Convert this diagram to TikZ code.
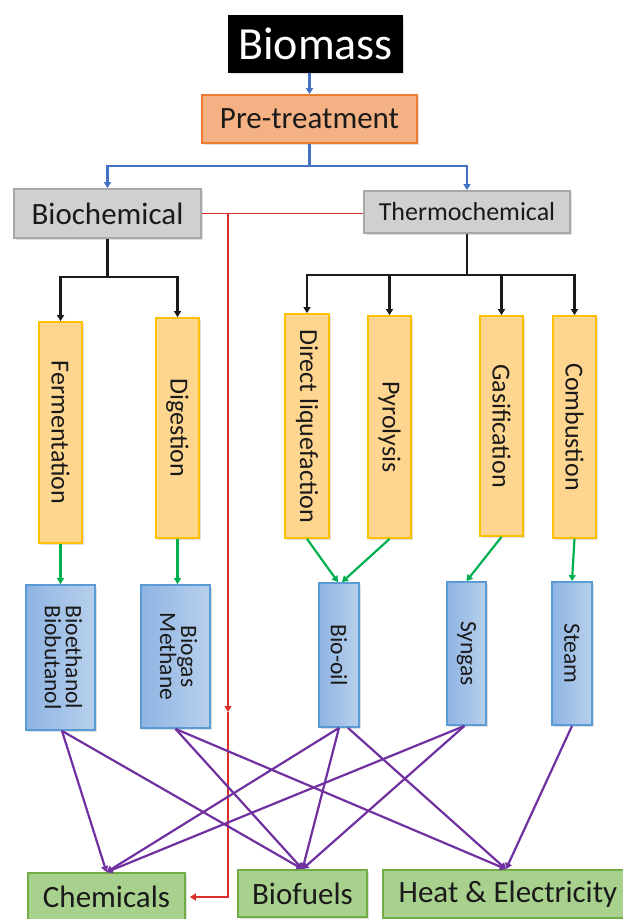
\documentclass[tikz,border=0pt]{standalone}
\usepackage{fontspec}
\setmainfont{Carlito}
\usetikzlibrary{arrows.meta,shadows,calc}
\definecolor{bluel}{HTML}{4472C4}
\definecolor{redl}{HTML}{D9302C}
\definecolor{greenl}{HTML}{00B050}
\definecolor{purl}{HTML}{7030A0}
\definecolor{blkl}{HTML}{1A1A1A}
\definecolor{orfill}{HTML}{F4B183}
\definecolor{ordraw}{HTML}{ED7D31}
\definecolor{grfill}{HTML}{D0D0D0}
\definecolor{grdraw}{HTML}{A8A8A8}
\definecolor{yefill}{HTML}{FFD68F}
\definecolor{yedraw}{HTML}{FFC000}
\definecolor{blfillL}{HTML}{8FB4E3}
\definecolor{blfillR}{HTML}{B8D0EC}
\definecolor{bldraw}{HTML}{5B9BD5}
\definecolor{gnfill}{HTML}{A9D18E}
\definecolor{gndraw}{HTML}{70AD47}
\begin{document}
\begin{tikzpicture}[x=1pt,y=-1pt,
  box/.style={inner sep=0pt, line width=1.8pt, text=blkl, align=center,
    drop shadow={shadow xshift=1.5pt, shadow yshift=-1.5pt, opacity=0.25}},
  topbox/.style={box, fill=black, draw=black, text=white, drop shadow={opacity=0}},
  prebox/.style={box, fill=orfill, draw=ordraw},
  graybox/.style={box, fill=grfill, draw=grdraw},
  procbox/.style={box, fill=yefill, draw=yedraw, font=\fontsize{26}{28}\selectfont},
  prodbox/.style={box, left color=blfillL, right color=blfillR, draw=bldraw, font=\fontsize{23.5}{25}\selectfont},
  endbox/.style={box, fill=gnfill, draw=gndraw, font=\fontsize{31}{33}\selectfont},
  tip/.style={-{Triangle[width=7pt,length=6pt]}},
  bluearr/.style={bluel, line width=2.2pt},
  redarr/.style={redl, line width=1.8pt},
  blkarr/.style={blkl, line width=2.2pt},
  grnarr/.style={greenl, line width=2.2pt},
  purarr/.style={purl, line width=2.2pt}]
\useasboundingbox (0,0) rectangle (623,919);

% top level
\node[topbox, minimum width=173pt, minimum height=56pt, font=\fontsize{46}{48}\selectfont] (bio) at (315.5,44) {Biomass};
\node[prebox, minimum width=215pt, minimum height=48pt, font=\fontsize{31}{33}\selectfont] (pre) at (309.5,119) {Pre-treatment};
\node[graybox, minimum width=187pt, minimum height=49pt, font=\fontsize{31}{33}\selectfont] (bc) at (107.5,213.5) {Biochemical};
\node[graybox, minimum width=206pt, minimum height=42pt, font=\fontsize{26}{28}\selectfont] (tc) at (467,212) {Thermochemical};

% processes
\node[procbox, minimum width=43pt, minimum height=221pt] (ferm) at (60.5,432.5) {\rotatebox{-90}{Fermentation}};
\node[procbox, minimum width=43pt, minimum height=220pt] (dig) at (177.5,428) {\rotatebox{-90}{Digestion}};
\node[procbox, minimum width=44pt, minimum height=224pt] (dl) at (307,426) {\rotatebox{-90}{Direct liquefaction}};
\node[procbox, minimum width=43pt, minimum height=222pt] (pyr) at (389.5,427) {\rotatebox{-90}{Pyrolysis}};
\node[procbox, minimum width=43pt, minimum height=220pt] (gas) at (501.5,426) {\rotatebox{-90}{Gasification}};
\node[procbox, minimum width=43pt, minimum height=222pt] (comb) at (574.5,427) {\rotatebox{-90}{Combustion}};

% products
\node[prodbox, minimum width=69pt, minimum height=145pt] (beth) at (60.5,657.5) {\rotatebox{-90}{\begin{tabular}{@{}c@{}}Bioethanol\\[-4pt]Biobutanol\end{tabular}}};
\node[prodbox, minimum width=69pt, minimum height=143pt] (bgas) at (175.5,656.5) {\rotatebox{-90}{\begin{tabular}{@{}c@{}}Biogas\\[-4pt]Methane\end{tabular}}};
\node[prodbox, minimum width=40pt, minimum height=144pt] (boil) at (339,655) {\rotatebox{-90}{Bio-oil}};
\node[prodbox, minimum width=39pt, minimum height=143pt] (syn) at (466.5,653.5) {\rotatebox{-90}{Syngas}};
\node[prodbox, minimum width=40pt, minimum height=143pt] (stm) at (572,653.5) {\rotatebox{-90}{Steam}};

% end uses
\node[endbox, minimum width=157pt, minimum height=48pt] (chem) at (106.5,897) {Chemicals};
\node[endbox, minimum width=129pt, minimum height=47pt] (bfu) at (302.5,893.5) {Biofuels};
\node[endbox, minimum width=250pt, minimum height=48pt] (heat) at (508,894) {Heat \& Electricity};

% blue connectors
\draw[bluearr, tip] (bio.south -| pre.north) -- (pre.north);
\coordinate (pj) at (309.5,166);
\draw[bluearr] (pre.south) -- (pj);
\draw[bluearr, tip] (pj) -| (bc.north);
\draw[bluearr, tip] (pj) -| (tc.north);

% red connector
\coordinate (rtop) at (228,213);
\coordinate (rmid) at (228,712);
\draw[redarr] (bc.east) -- (bc.east -| tc.west);
\draw[redarr, tip] (rtop) -- (rmid);
\draw[redarr, tip, shorten >=4pt] (rmid) |- (chem.east);

% black connectors
\coordinate (bj) at (107.5,277);
\draw[blkarr] (bc.south) -- (bj);
\draw[blkarr, tip] (bj) -| (ferm.north);
\draw[blkarr, tip] (bj) -| (dig.north);
\coordinate (tj) at (467,275);
\draw[blkarr] (tc.south) -- (tj);
\draw[blkarr, tip] (tj) -| (dl.north);
\draw[blkarr, tip] (tj) -| (pyr.north);
\draw[blkarr, tip] (tj) -| (gas.north);
\draw[blkarr, tip] (tj) -| (comb.north);

% green connectors
\draw[grnarr, tip] (ferm.south) -- (beth.north);
\draw[grnarr, tip] (dig.south) -- (dig.south |- bgas.north);
\draw[grnarr, tip] (dl.south) -- ($(boil.north)+(-1,0)$);
\draw[grnarr, tip] (pyr.south) -- ($(boil.north)+(3,0)$);
\draw[grnarr, tip] (gas.south) -- (syn.north);
\draw[grnarr, tip] (comb.south) -- (stm.north);

% purple connectors
\coordinate (boilR) at ($(boil.south)+(9,0)$);
\draw[purarr, tip] ($(beth.south)+(1.5,0)$) -- (chem.north);
\draw[purarr, tip] ($(beth.south)+(1.5,0)$) -- (bfu.north);
\draw[purarr, tip] (bgas.south) -- (bfu.north);
\draw[purarr, tip] (bgas.south) -- ($(heat.north)+(-2,0)$);
\draw[purarr, tip] (boil.south) -- (chem.north);
\draw[purarr, tip] (boil.south) -- (bfu.north);
\draw[purarr, tip] (boilR) -- ($(heat.north)+(-2,0)$);
\draw[purarr, tip] ($(syn.south)+(-2,0)$) -- (chem.north);
\draw[purarr, tip] ($(syn.south)+(-2,0)$) -- (bfu.north);
\draw[purarr, tip] (stm.south) -- ($(heat.north)+(-2,0)$);
\end{tikzpicture}
\end{document}
